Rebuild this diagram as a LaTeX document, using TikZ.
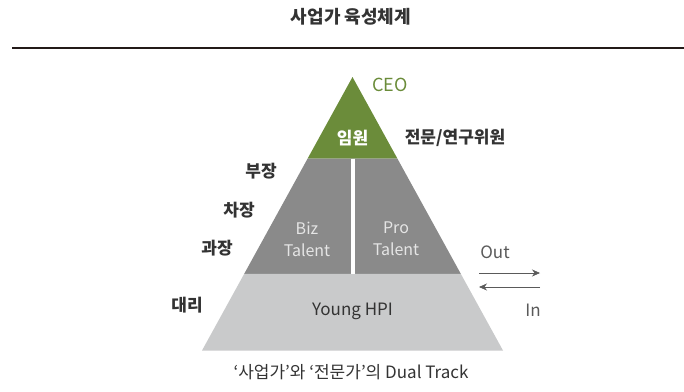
\documentclass[tikz,border=0pt]{standalone}
\usepackage{fontspec}
\setmainfont{Noto Sans CJK KR}
\usetikzlibrary{
  arrows.meta,
  positioning,
  calc
}
\definecolor{leafgreen}{RGB}{107,140,58}
\definecolor{midgray}{RGB}{138,138,138}
\definecolor{palegray}{RGB}{201,202,203}
\definecolor{inkgray}{RGB}{51,51,51}
\definecolor{arrowgray}{RGB}{90,90,90}
\definecolor{rulebrown}{RGB}{35,26,24}
\tikzset{
  rank/.style={font=\fontsize{17}{19}\selectfont\bfseries, text=inkgray},
  talent/.style={font=\fontsize{16}{22}\selectfont, text=white!90!black, align=center},
  flow/.style={font=\fontsize{17}{19}\selectfont, text=arrowgray}
}

\begin{document}
\begin{tikzpicture}[x=1pt, y=-1pt]
  \useasboundingbox (0,0) rectangle (684,391);

  % title and rule
  \node[font=\fontsize{18}{20}\selectfont\bfseries, text=inkgray] (title) at (351,17) {사업가 육성체계};
  \draw[rulebrown, line width=2pt] (12,47.5) -- (684,47.5);

  % pyramid
  \coordinate (apex) at (352.5,77);
  \coordinate (bl) at (202,350.5);
  \coordinate (br) at (503,350.5);
  \coordinate (gl) at ($(apex)!0.298!(bl)$);
  \coordinate (gr) at ($(apex)!0.298!(br)$);
  \coordinate (ml) at ($(apex)!0.720!(bl)$);
  \coordinate (mr) at ($(apex)!0.720!(br)$);
  \fill[leafgreen] (apex) -- (gr) -- (gl) -- cycle;
  \fill[midgray] (gl) -- (gr) -- (mr) -- (ml) -- cycle;
  \fill[palegray] (ml) -- (mr) -- (br) -- (bl) -- cycle;
  \draw[white, line width=4pt] (352.5,158.5) -- (352.5,274);

  \node[font=\fontsize{17}{19}\selectfont\bfseries, text=white] (exec) at (352.5,138) {임원};
  \node[talent] (biz) at (307,239) {Biz\\Talent};
  \node[talent] (pro) at (396,239) {Pro\\Talent};
  \node[font=\fontsize{17}{19}\selectfont, text=inkgray] (hpi) at (352.5,311) {Young HPI};

  % ranks
  \node[font=\fontsize{18}{20}\selectfont, text=leafgreen] (ceo) at (390,85) {CEO};
  \node[rank] (fellow) at (455,138) {전문/연구위원};
  \node[rank] (bujang) at (261,171) {부장};
  \node[rank] (chajang) at (239,210) {차장};
  \node[rank] (gwajang) at (217,248) {과장};
  \node[rank] (daeri) at (187,305) {대리};

  % out / in
  \node[flow] (out) at (495,252) {Out};
  \node[flow] (in) at (533,310) {In};
  \coordinate (o1) at (479,273);
  \coordinate (o2) at (540,273);
  \coordinate (i1) at (540,287);
  \coordinate (i2) at (479,287);
  \draw[-{Stealth[length=8pt, width=7pt]}, arrowgray, line width=0.7pt] (o1) -- (o2);
  \draw[-{Stealth[length=8pt, width=7pt]}, arrowgray, line width=0.7pt] (i1) -- (i2);

  \node[font=\fontsize{17}{19}\selectfont, text=inkgray] (caption) at (351,372) {‘사업가’와 ‘전문가’의 Dual Track};
\end{tikzpicture}
\end{document}
